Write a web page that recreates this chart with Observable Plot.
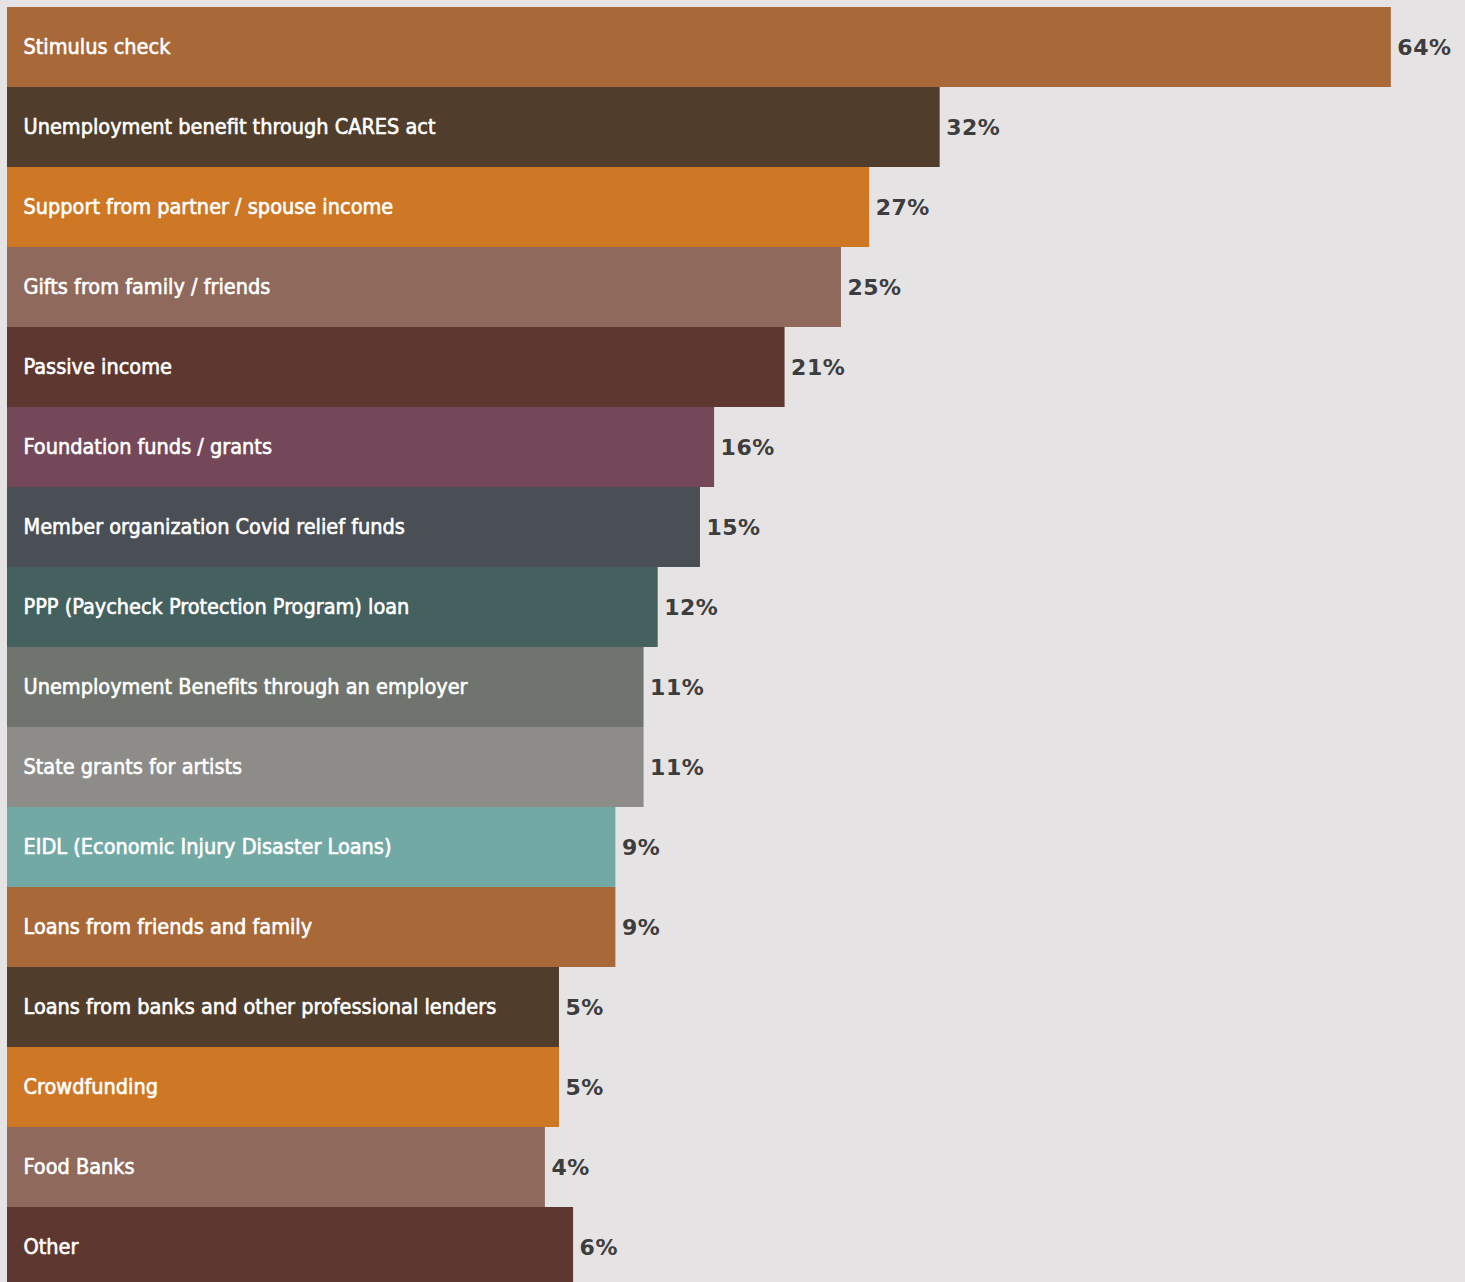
<!DOCTYPE html>
<html>
<head>
<meta charset="utf-8">
<script src="https://cdn.jsdelivr.net/npm/d3@7"></script>
<script src="https://cdn.jsdelivr.net/npm/@observablehq/plot@0.6"></script>
<style>
  html, body { margin: 0; padding: 0; background: #e5e3e4; }
  #chart svg { display: block; }
</style>
</head>
<body>
<div id="chart"></div>
<script>
const categories = [
  "Stimulus check",
  "Unemployment benefit through CARES act",
  "Support from partner / spouse income",
  "Gifts from family / friends",
  "Passive income",
  "Foundation funds / grants",
  "Member organization Covid relief funds",
  "PPP (Paycheck Protection Program) loan",
  "Unemployment Benefits through an employer",
  "State grants for artists",
  "EIDL (Economic Injury Disaster Loans)",
  "Loans from friends and family",
  "Loans from banks and other professional lenders",
  "Crowdfunding",
  "Food Banks",
  "Other"
];
const values = [64, 32, 27, 25, 21, 16, 15, 12, 11, 11, 9, 9, 5, 5, 4, 6];
const colors = [
  "#a86837", "#513d2b", "#ce7724", "#8f6a5c", "#5e3830", "#744858",
  "#4a4e55", "#44605f", "#6f756e", "#8e8c89", "#73a9a4", "#a86837",
  "#513d2b", "#ce7724", "#8f6a5c", "#5e3830"
];

const data = categories.map((c, i) => ({category: c, value: values[i], color: colors[i]}));
const XMIN = -34.15, XMAX = 69.26;

const chart = Plot.plot({
  width: 1465,
  height: 1282,
  marginLeft: 7,
  marginRight: 0,
  marginTop: 7,
  marginBottom: -5,
  style: {background: "#e5e3e4"},
  x: {domain: [XMIN, XMAX], axis: null},
  y: {domain: categories, axis: null, padding: 0},
  color: {type: "identity"},
  marks: [
    Plot.barX(data, {x1: d => XMIN, x2: "value", y: "category", fill: "color", inset: 0}),
    Plot.text(data, {
      x: d => XMIN, y: "category", text: "category", textAnchor: "start", dx: 16,
      fill: "white", stroke: "white", strokeWidth: 0.6, fontSize: 21.5,
      fontFamily: "'DejaVu Sans Condensed', 'DejaVu Sans', sans-serif",
      fontWeight: "normal"
    }),
    Plot.text(data, {
      x: "value", y: "category", text: d => d.value + "%", textAnchor: "start", dx: 6,
      fill: "#3d3d3d", fontSize: 22, fontWeight: "bold", fontFamily: "'DejaVu Sans', sans-serif"
    })
  ]
});
const textGroups = d3.select(chart).selectAll('g[aria-label="text"]').nodes();
d3.select(textGroups[0]).selectAll("text").style("font-stretch", "condensed");
d3.select(textGroups[1]).selectAll("text").style("letter-spacing", "0.5px");
document.getElementById("chart").appendChild(chart);
</script>
</body>
</html>
